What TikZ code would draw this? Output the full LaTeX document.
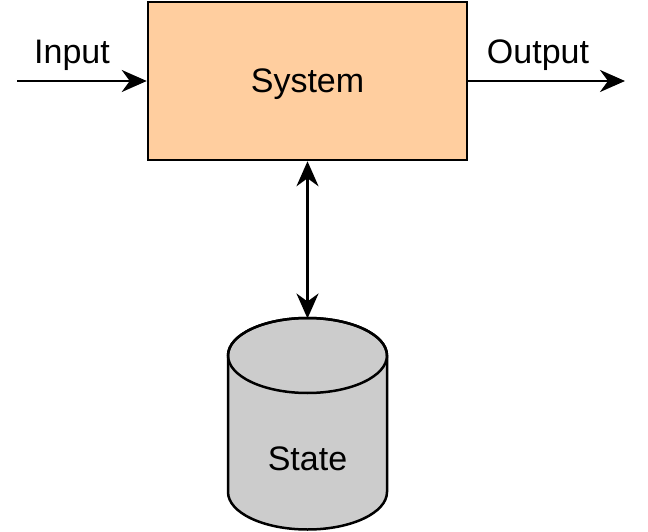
\documentclass[tikz,border=0pt]{standalone}
\usepackage{fontspec}
\setmainfont{Liberation Sans}
\usepackage{tikz}
\usetikzlibrary{arrows.meta}

\definecolor{peach}{HTML}{FFCE9F}
\definecolor{storegray}{HTML}{CCCCCC}

\tikzset{
    txt/.style={inner sep=0pt, font=\fontsize{34}{40}\selectfont},
    flow/.style={line width=2.5pt, -{Stealth[length=25pt, width=22pt, inset=8pt]}},
    bothflow/.style={line width=2.5pt, {Stealth[length=25pt, width=22pt, inset=8pt]}-{Stealth[length=25pt, width=22pt, inset=8pt]}}
}

\begin{document}
\begin{tikzpicture}[x=1pt,y=1pt,yscale=-1,xscale=1]
    \useasboundingbox (0,0) rectangle (648,532);

    %System box
    \node (system) [draw, line width=2.5pt, fill=peach, minimum width=319pt, minimum height=158pt, inner sep=0pt, text height=24pt, text depth=0pt, font=\fontsize{34}{40}\selectfont] at (307.5,81) {System};

    %State store (cylinder)
    \draw [line width=2.5pt, fill=storegray] (228,355.5) -- (228,492) arc[start angle=180, end angle=0, x radius=79.5, y radius=37.5] -- (387,355.5) arc[start angle=0, end angle=-180, x radius=79.5, y radius=37.5] -- cycle;
    \draw [line width=2.5pt] (307.5,355.5) ellipse [x radius=79.5, y radius=37.5];
    \coordinate (statetop) at (307.5,318.5);
    \node (state) [txt] at (307.5,459) {State};

    %Free ends
    \coordinate (in) at (17,81);
    \coordinate (out) at (625,81);

    %Connectors
    \draw [flow] (in) -- (system.west);
    \draw [flow] (system.east) -- (out);
    \draw [bothflow] (system.south) -- (statetop);

    % Text Node
    \node (inputlabel) [txt] at (72,55) {Input};
    % Text Node
    \node (outputlabel) [txt] at (538,55) {Output};

\end{tikzpicture}
\end{document}
